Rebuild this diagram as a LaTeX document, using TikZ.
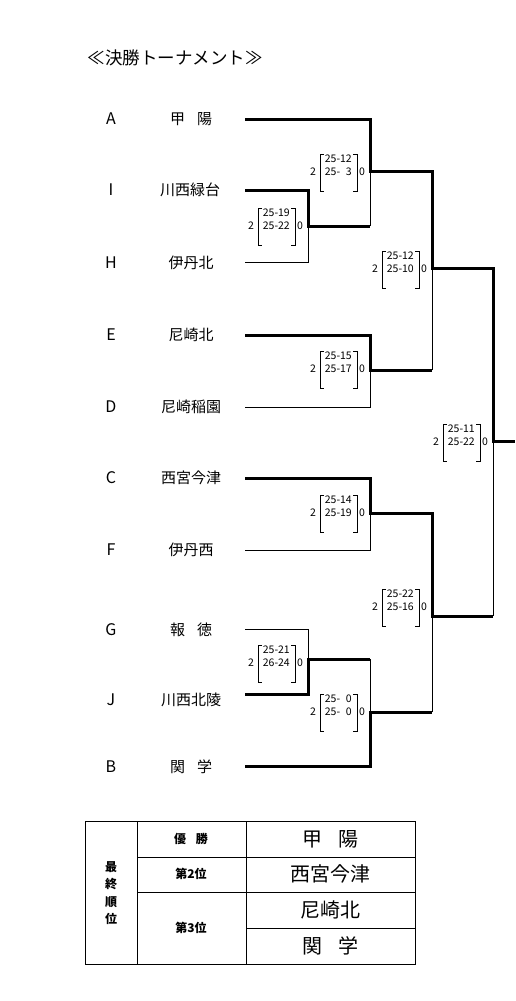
\documentclass[tikz,border=0pt]{standalone}
\usepackage{fontspec}
\setmainfont{Noto Sans CJK JP}
\usepackage{tikz}

\tikzset{
  win/.style={line width=3pt},
  lose/.style={line width=1pt},
  letter/.style={inner sep=0pt, font=\fontsize{16}{16}\selectfont},
  team/.style={inner sep=0pt, font=\fontsize{15}{15}\selectfont},
  score/.style={inner sep=0pt, font=\fontsize{10.5}{10.5}\selectfont},
  rankhead/.style={inner sep=0pt, font=\bfseries\fontsize{12}{12}\selectfont},
  rankname/.style={inner sep=0pt, font=\fontsize{20}{20}\selectfont}
}

% score box: name, junction x, row y, first set, second set
\newcommand{\matchscore}[5]{%
  \begin{scope}[shift={(#2,#3)}]
    \node[score] (#1w) at (-57,0) {2};
    \node[score, anchor=east] (#1a) at (-18,-13) {#4};
    \node[score, anchor=east] (#1b) at (-18,0) {#5};
    \node[score] (#1l) at (-8,0) {0};
    \draw[lose] (-46,-18) -- (-50,-18) -- (-50,19) -- (-46,19);
    \draw[lose] (-17,-18) -- (-13,-18) -- (-13,19) -- (-17,19);
  \end{scope}}

\begin{document}
\begin{tikzpicture}[x=1pt, y=-1pt]
  \fill[white] (0,0) rectangle (515,1001);
  \useasboundingbox (0,0) rectangle (515,1001);

  % Title
  \node[inner sep=0pt, font=\fontsize{17.5}{17.5}\selectfont] (title) at (175,58) {≪決勝トーナメント≫};

  % Teams
  \node[letter] (lA) at (111,119) {A};
  \node[letter] (lI) at (111,190) {I};
  \node[letter] (lH) at (111,263) {H};
  \node[letter] (lE) at (111,335) {E};
  \node[letter] (lD) at (111,407) {D};
  \node[letter] (lC) at (111,478) {C};
  \node[letter] (lF) at (111,550) {F};
  \node[letter] (lG) at (111,630) {G};
  \node[letter] (lJ) at (111,700) {J};
  \node[letter] (lB) at (111,767) {B};

  \node[team] (tA) at (191,119) {甲\hspace{0.8em}陽};
  \node[team] (tI) at (190,190) {川西緑台};
  \node[team] (tH) at (191,263) {伊丹北};
  \node[team] (tE) at (191,335) {尼崎北};
  \node[team] (tD) at (191,407) {尼崎稲園};
  \node[team] (tC) at (191,478) {西宮今津};
  \node[team] (tF) at (191,550) {伊丹西};
  \node[team] (tG) at (191,630) {報\hspace{0.8em}徳};
  \node[team] (tJ) at (191,700) {川西北陵};
  \node[team] (tB) at (191,767) {関\hspace{0.8em}学};

  % Line starts and junctions
  \coordinate (sA) at (245,119);
  \coordinate (sI) at (245,190);
  \coordinate (sH) at (245,262);
  \coordinate (sE) at (245,335);
  \coordinate (sD) at (245,407);
  \coordinate (sC) at (245,478);
  \coordinate (sF) at (245,550);
  \coordinate (sG) at (245,629);
  \coordinate (sJ) at (245,694);
  \coordinate (sB) at (245,766);

  \coordinate (m1) at (370,171);
  \coordinate (m2) at (308,226);
  \coordinate (m3) at (432,268);
  \coordinate (m4) at (370,370);
  \coordinate (m5) at (493,441);
  \coordinate (m6) at (370,513);
  \coordinate (m7) at (432,616);
  \coordinate (m8) at (308,659);
  \coordinate (m9) at (370,712);
  \coordinate (champ) at (515,441);

  % Edges
  \draw[win] (sA) -| (m1) -| (m3) -| (m5) -- (champ);
  \draw[win] (sI) -| (m2) -- (m2 -| m1);
  \draw[lose] (m2 -| m1) -- (m1);
  \draw[lose] (sH) -| (m2);
  \draw[win] (sE) -| (m4) -- (m4 -| m3);
  \draw[lose] (m4 -| m3) -- (m3);
  \draw[lose] (sD) -| (m4);
  \draw[win] (sC) -| (m6) -| (m7) -- (m7 -| m5);
  \draw[lose] (m7 -| m5) -- (m5);
  \draw[lose] (sF) -| (m6);
  \draw[lose] (sG) -| (m8);
  \draw[win] (sJ) -| (m8) -- (m8 -| m9);
  \draw[lose] (m8 -| m9) -- (m9);
  \draw[win] (sB) -| (m9) -- (m9 -| m7);
  \draw[lose] (m9 -| m7) -- (m7);

  % Scores
  \matchscore{b1}{370}{172}{25-12}{25-\phantom{1}3}
  \matchscore{b2}{308}{226}{25-19}{25-22}
  \matchscore{b3}{432}{269}{25-12}{25-10}
  \matchscore{b4}{370}{369}{25-15}{25-17}
  \matchscore{b5}{493}{442}{25-11}{25-22}
  \matchscore{b6}{370}{513}{25-14}{25-19}
  \matchscore{b7}{432}{607}{25-22}{25-16}
  \matchscore{b8}{308}{663}{25-21}{26-24}
  \matchscore{b9}{370}{712}{25-\phantom{1}0}{25-\phantom{1}0}

  % Final ranking
  \draw[lose] (85,821) rectangle (415,964);
  \draw[lose] (137,821) -- (137,964);
  \draw[lose] (246,821) -- (246,964);
  \draw[lose] (137,857) -- (415,857);
  \draw[lose] (137,892) -- (415,892);
  \draw[lose] (246,928) -- (415,928);

  \node[rankhead, align=center, font=\bfseries\fontsize{12}{17.3}\selectfont] (rk) at (111,893) {最\\終\\順\\位};
  \node[rankhead] (r1) at (191,839) {優\hspace{0.8em}勝};
  \node[rankhead] (r2) at (191,874) {第2位};
  \node[rankhead] (r3) at (191,928) {第3位};
  \node[rankname] (n1) at (330,839) {甲\hspace{0.8em}陽};
  \node[rankname] (n2) at (330,874) {西宮今津};
  \node[rankname] (n3) at (330,910) {尼崎北};
  \node[rankname] (n4) at (330,946) {関\hspace{0.8em}学};
\end{tikzpicture}
\end{document}
